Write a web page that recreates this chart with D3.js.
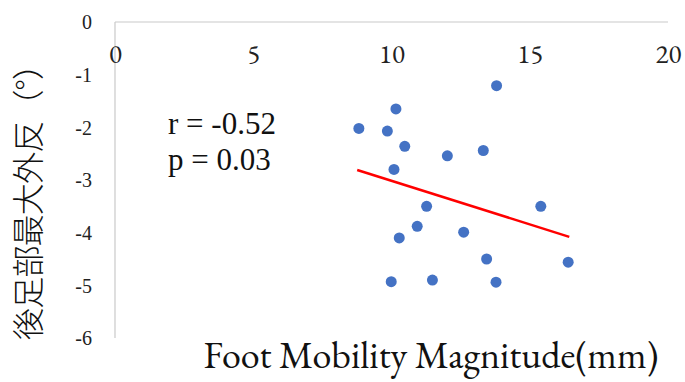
<!DOCTYPE html>
<html>
<head>
<meta charset="utf-8">
<script src="https://cdn.jsdelivr.net/npm/d3@7/dist/d3.min.js"></script>
<style>
  html, body { margin: 0; padding: 0; background: #ffffff; }
  svg { display: block; }
</style>
</head>
<body>
<div id="chart"></div>
<script>
// Foot mobility magnitude (mm) against maximum rearfoot eversion (degrees)
const footMobility = [13.80, 10.16, 8.82, 9.85, 10.48, 12.02, 13.32, 10.09, 11.27,
                      15.40, 10.93, 10.28, 12.61, 13.44, 16.39, 9.99, 11.48, 13.78];
const rearfootEversion = [-1.21, -1.65, -2.02, -2.07, -2.36, -2.54, -2.44, -2.80, -3.50,
                          -3.50, -3.88, -4.10, -3.99, -4.50, -4.56, -4.93, -4.90, -4.94];

// Linear trend line end points
const trendX = [8.76, 16.43];
const trendY = [-2.81, -4.08];

const xTicks = [0, 5, 10, 15, 20];
const yTicks = [0, -1, -2, -3, -4, -5, -6];

const statLines = ["r = -0.52", "p = 0.03"];
const xTitle = "Foot Mobility Magnitude(mm)";
const yTitle = "後足部最大外反（°）";

const width = 685, height = 382;
const plot = { left: 115, right: 668, top: 22, bottom: 338 };

const svg = d3.select("#chart").append("svg")
  .attr("width", width).attr("height", height);

const x = d3.scaleLinear().domain([0, 20]).range([plot.left, plot.right]);
const y = d3.scaleLinear().domain([-6, 0]).range([plot.bottom, plot.top]);

const serif = "'Liberation Serif', 'Times New Roman', serif";
const plain = d => String(d);   // keeps an ASCII hyphen for negatives

// Horizontal axis line at y = 0 (top of the plot)
svg.append("line")
  .attr("x1", x(0)).attr("x2", x(20))
  .attr("y1", y(0)).attr("y2", y(0))
  .attr("stroke", "#c9c9c9").attr("stroke-width", 1.2);

// Vertical axis line at x = 0
svg.append("line")
  .attr("x1", x(0)).attr("x2", x(0))
  .attr("y1", y(0)).attr("y2", y(-6))
  .attr("stroke", "#c9c9c9").attr("stroke-width", 1.2);

// X tick labels sit just below the top axis line
const xAxis = d3.axisBottom(x).tickValues(xTicks).tickSize(0).tickPadding(0)
  .tickFormat(plain);
const gx = svg.append("g").attr("transform", `translate(0,${y(0)})`).call(xAxis);
gx.attr("font-family", null).attr("font-size", null);
gx.select(".domain").remove();
gx.selectAll("text")
  .attr("y", 41).attr("dy", null)
  .attr("font-family", "'EB Garamond', 'Liberation Serif', serif")
  .attr("font-size", 27).attr("fill", "#222");

// Y tick labels to the left of the vertical axis
const yAxis = d3.axisLeft(y).tickValues(yTicks).tickSize(0).tickPadding(0)
  .tickFormat(plain);
const gy = svg.append("g").attr("transform", `translate(${x(0) - 23},0)`).call(yAxis);
gy.attr("font-family", null).attr("font-size", null);
gy.select(".domain").remove();
gy.selectAll("text")
  .attr("x", 0).attr("dy", "0.34em")
  .attr("font-family", serif).attr("font-size", 20).attr("fill", "#222");

// Trend line
svg.append("path")
  .datum(trendX.map((d, i) => [d, trendY[i]]))
  .attr("d", d3.line().x(d => x(d[0])).y(d => y(d[1])))
  .attr("fill", "none").attr("stroke", "#ff0000").attr("stroke-width", 2.5);

// Scatter points
svg.append("g").selectAll("circle")
  .data(footMobility.map((d, i) => [d, rearfootEversion[i]]))
  .join("circle")
  .attr("cx", d => x(d[0])).attr("cy", d => y(d[1]))
  .attr("r", 5.5)
  .attr("fill", "#4472c4");

// Correlation statistics
svg.append("g").selectAll("text")
  .data(statLines)
  .join("text")
  .attr("x", 168).attr("y", (d, i) => 134 + i * 36)
  .attr("font-family", serif).attr("font-size", 31).attr("fill", "#111")
  .text(d => d);

// Axis titles
svg.append("text")
  .attr("x", 431).attr("y", 368)
  .attr("text-anchor", "middle")
  .attr("font-family", "'EB Garamond', 'Liberation Serif', serif")
  .attr("font-size", 38).attr("fill", "#111")
  .text(xTitle);

svg.append("text")
  .attr("transform", "translate(40,194) rotate(-90)")
  .attr("text-anchor", "middle")
  .attr("font-family", "'Noto Sans CJK JP', sans-serif")
  .attr("font-weight", 300)
  .attr("font-size", 32).attr("fill", "#111")
  .attr("textLength", 292).attr("lengthAdjust", "spacing")
  .text(yTitle);
</script>
</body>
</html>
